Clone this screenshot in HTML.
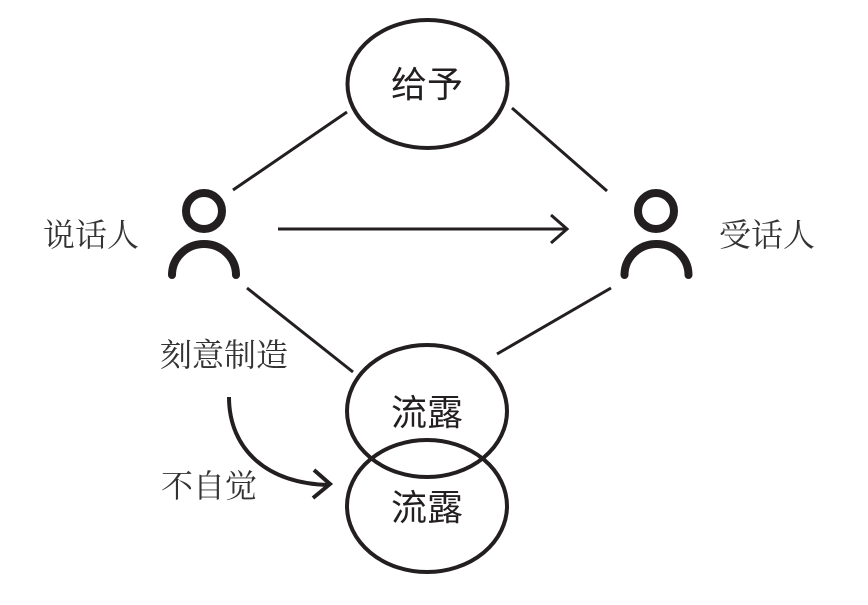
<!DOCTYPE html>
<html lang="zh">
<head>
<meta charset="utf-8">
<style>
html,body{margin:0;padding:0;background:#fff;width:868px;height:605px;overflow:hidden}
svg{display:block}
.s{font-family:"Liberation Serif","Noto Serif CJK SC",serif;font-size:32px;fill:#333;font-weight:400}
.n{font-family:"Liberation Sans","Noto Sans CJK SC",sans-serif;font-size:36px;fill:#231f20;font-weight:400}
</style>
</head>
<body>
<svg width="868" height="605" viewBox="0 0 868 605" xmlns="http://www.w3.org/2000/svg">
<rect width="868" height="605" fill="#fff"/>
<g fill="none" stroke="#231f20" stroke-width="4">
<ellipse cx="427.5" cy="84" rx="80" ry="64"/>
<ellipse cx="427" cy="411" rx="80" ry="66"/>
<ellipse cx="427" cy="506" rx="80" ry="66"/>
</g>
<g fill="none" stroke="#231f20" stroke-width="3">
<path d="M233 190L347 112"/>
<path d="M512 108L607 191"/>
<path d="M247 288L353 372"/>
<path d="M497 354L611 288"/>
<path d="M278 229H567"/>
<path d="M551 215L567 229L551 243"/>
</g>
<g fill="none" stroke="#231f20" stroke-width="4">
<path d="M229 397C229 450 268 484 329 485"/>
<path d="M314 470L330 484L313 498"/>
</g>
<g fill="none" stroke="#231f20" stroke-width="8" stroke-linecap="round">
<circle cx="204" cy="211" r="18"/>
<path d="M172 275A32 31 0 0 1 236 275"/>
<circle cx="656" cy="211" r="18"/>
<path d="M624.500 275A32 31 0 0 1 688.500 275"/>
</g>
<text class="s" x="43" y="246">说话人</text>
<text class="s" x="719" y="246">受话人</text>
<text class="s" x="160" y="366">刻意制造</text>
<text class="s" x="161" y="497">不自觉</text>
<text class="n" x="391" y="97">给予</text>
<text class="n" x="391" y="425">流露</text>
<text class="n" x="391" y="520">流露</text>
</svg>
</body>
</html>
